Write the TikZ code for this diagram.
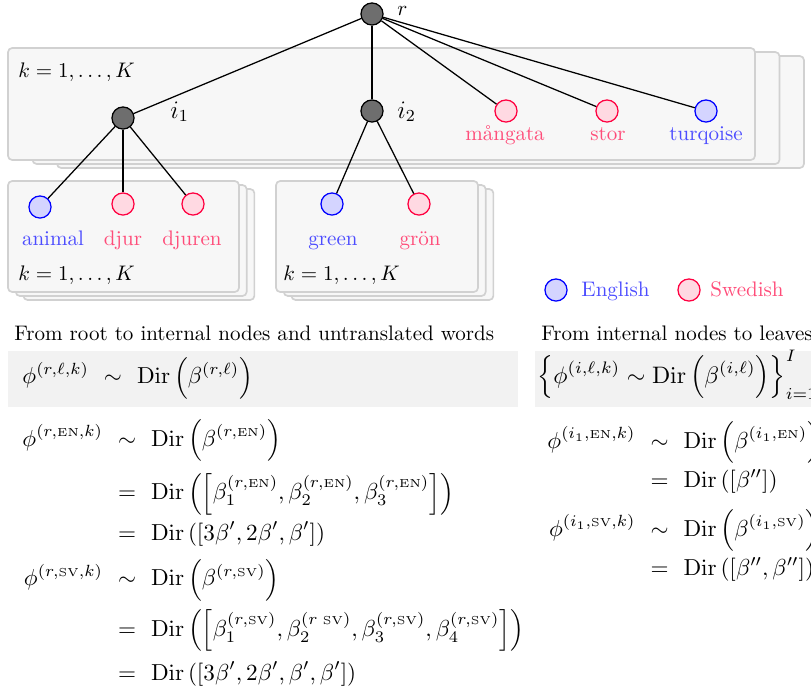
\documentclass[tikz,border=0pt]{standalone}
\usepackage{amsmath,amssymb}
\usepackage{xcolor}
\usetikzlibrary{calc}

\definecolor{engcol}{RGB}{0,0,255}
\definecolor{swecol}{RGB}{255,0,64}
\newcommand{\lEN}{{\scriptscriptstyle\mathrm{EN}}}
\newcommand{\lSV}{{\scriptscriptstyle\mathrm{SV}}}
\newcommand{\Dirop}{\mathrm{Dir}}

\begin{document}
\begin{tikzpicture}[
    x=0.4752pt, y=-0.4752pt,
    plate/.style={draw=black!18, fill=black!3, line width=0.8pt, rounded corners=2pt},
    inner/.style={circle, draw, fill=black!57, minimum size=10.5pt, inner sep=0pt, line width=0.6pt},
    eng/.style={circle, draw=engcol, fill=engcol!17, minimum size=10.5pt, inner sep=0pt, line width=0.6pt},
    swe/.style={circle, draw=swecol, fill=swecol!15, minimum size=10.5pt, inner sep=0pt, line width=0.6pt},
    engtxt/.style={text=engcol!70, anchor=base, inner sep=0pt},
    swetxt/.style={text=swecol!70, anchor=base, inner sep=0pt},
    txt/.style={anchor=base west, inner sep=0pt},
    eqn/.style={inner sep=0pt, scale=1.1, transform shape},
    edge/.style={line width=0.6pt}
]
    \useasboundingbox (0,0) rectangle (811,690);
    \clip (0,0) rectangle (811,690);

    \foreach \d in {2,1,0} {
        \draw[plate, shift={(\d*24.5,\d*4)}] (8,48) rectangle (755,160);
        \draw[plate, shift={(\d*7.7,\d*4)}] (8,181) rectangle (239,292);
        \draw[plate, shift={(\d*7.7,\d*4)}] (276,181) rectangle (478,292);
    }

    \node[txt] (ktop) at (18,77) {$k=1,\ldots,K$};
    \node[txt] (kone) at (18,280) {$k=1,\ldots,K$};
    \node[txt] (ktwo) at (283,280) {$k=1,\ldots,K$};

    \node[inner] (r) at (372,14) {};
    \node[inner] (i1) at (123,118) {};
    \node[inner] (i2) at (372,111) {};
    \node[swe] (mangata) at (506,111) {};
    \node[swe] (stor) at (607,111) {};
    \node[eng] (turqoise) at (706,111) {};
    \node[eng] (animal) at (40,207) {};
    \node[swe] (djur) at (123,204) {};
    \node[swe] (djuren) at (193,204) {};
    \node[eng] (green) at (332,204) {};
    \node[swe] (gron) at (419,204) {};

    \node[txt] (rlab) at (397,15) {$r$};
    \node[txt] (i1lab) at (170,118) {\large $i_1$};
    \node[txt] (i2lab) at (397,118) {\large $i_2$};

    \node[swetxt] (mangatalab) at (505,140) {mångata};
    \node[swetxt] (storlab) at (608,140) {stor};
    \node[engtxt] (turqoiselab) at (706,140) {turqoise};
    \node[engtxt] (animallab) at (53,245) {animal};
    \node[swetxt] (djurlab) at (123,245) {djur};
    \node[swetxt] (djurenlab) at (192,245) {djuren};
    \node[engtxt] (greenlab) at (333,245) {green};
    \node[swetxt] (gronlab) at (420,245) {grön};

    \foreach \a/\b in {r/i1, r/i2, r/mangata, r/stor, r/turqoise,
                       i1/animal, i1/djur, i1/djuren, i2/green, i2/gron}
        \draw[edge] (\a) -- (\b);

    \node[eng] (legeng) at (556,290) {};
    \node[txt, text=engcol!70] (legengtxt) at (581,296) {English};
    \node[swe] (legswe) at (689,290) {};
    \node[txt, text=swecol!70] (legswetxt) at (710,296) {Swedish};

    \node[txt] (roottitle) at (14,340) {From root to internal nodes and untranslated words};
    \node[txt] (leaftitle) at (541,340) {From internal nodes to leaves};

    \fill[black!5] (8,351) rectangle (518,407);
    \fill[black!5] (535,351) rectangle (811,407);

    \node[eqn, anchor=west] (rootprior) at (22,378) {$\begin{array}{@{}r@{\hspace{6.5pt}}c@{\hspace{6.5pt}}l@{}}
        \displaystyle\phi^{(r,\ell,k)} & \sim & \displaystyle\Dirop\left(\beta^{(r,\ell)}\right)
    \end{array}$};
    \node[eqn, anchor=base west, scale=1.03] (leafprior) at (537,383) {$\displaystyle\left\{\phi^{(i,\ell,k)}\sim\Dirop\left(\beta^{(i,\ell)}\right)\right\}_{i=1}^{I}$};

    \node[eqn, anchor=west] (rooteqs) at (22,554) {$\begin{array}{@{}r@{\hspace{6.5pt}}c@{\hspace{6.5pt}}l@{}}
        \displaystyle\phi^{(r,\lEN,k)} & \sim & \displaystyle\Dirop\left(\beta^{(r,\lEN)}\right)\\[8pt]
        & = & \displaystyle\Dirop\left(\left[\beta_1^{(r,\lEN)},\beta_2^{(r,\lEN)},\beta_3^{(r,\lEN)}\right]\right)\\[5.4pt]
        & = & \displaystyle\Dirop\left([3\beta',2\beta',\beta']\right)\\[4.7pt]
        \displaystyle\phi^{(r,\lSV,k)} & \sim & \displaystyle\Dirop\left(\beta^{(r,\lSV)}\right)\\[6.6pt]
        & = & \displaystyle\Dirop\left(\left[\beta_1^{(r,\lSV)},\beta_2^{(r\;\lSV)},\beta_3^{(r,\lSV)},\beta_4^{(r,\lSV)}\right]\right)\\[7pt]
        & = & \displaystyle\Dirop\left([3\beta',2\beta',\beta',\beta']\right)
    \end{array}$};

    \node[eqn, anchor=west] (leafeqs) at (547,503) {$\begin{array}{@{}r@{\hspace{6.5pt}}c@{\hspace{6.5pt}}l@{}}
        \displaystyle\phi^{(i_1,\lEN,k)} & \sim & \displaystyle\Dirop\left(\beta^{(i_1,\lEN)}\right)\\[5pt]
        & = & \displaystyle\Dirop\left([\beta'']\right)\\[5.9pt]
        \displaystyle\phi^{(i_1,\lSV,k)} & \sim & \displaystyle\Dirop\left(\beta^{(i_1,\lSV)}\right)\\[5pt]
        & = & \displaystyle\Dirop\left([\beta'',\beta'']\right)
    \end{array}$};
\end{tikzpicture}
\end{document}
